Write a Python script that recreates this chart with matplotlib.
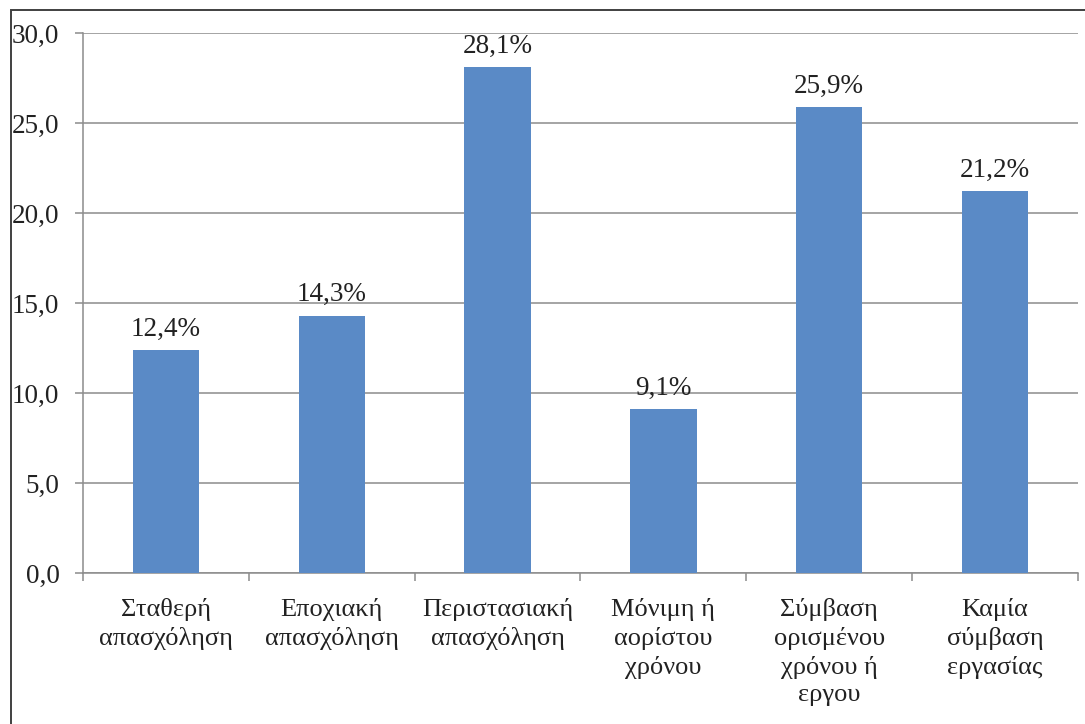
import matplotlib
matplotlib.use("Agg")
import matplotlib.pyplot as plt
from matplotlib.patches import Rectangle
import numpy as np

# data
categories = [
    "Σταθερή\nαπασχόληση",
    "Εποχιακή\nαπασχόληση",
    "Περιστασιακή\nαπασχόληση",
    "Μόνιμη ή\nαορίστου\nχρόνου",
    "Σύμβαση\nορισμένου\nχρόνου ή\nεργου",
    "Καμία\nσύμβαση\nεργασίας",
]
values = [12.4, 14.3, 28.1, 9.1, 25.9, 21.2]
yticks = [0, 5, 10, 15, 20, 25, 30]

plt.rcParams['font.family'] = ['Liberation Serif', 'DejaVu Serif']
bar_color = "#5A8AC6"
axis_gray = "#8C8C8C"
text_col = "#222222"

fig = plt.figure(figsize=(10.85, 7.24), dpi=100)
ax = fig.add_axes([83 / 1085, 1 - 573 / 724, (1078 - 83) / 1085, (573 - 33) / 724])

x = np.arange(len(categories))
ax.bar(x, values, width=0.4, color=bar_color, zorder=3)

for xi, v in zip(x, values):
    ax.annotate(f"{v:.1f}%".replace(".", ","), (xi, v), xytext=(0, 6),
                textcoords="offset points", ha="center", va="bottom",
                fontsize=19.5, color=text_col)

ax.set_xlim(-0.5, len(categories) - 0.5)
ax.set_ylim(0, 30)
ax.set_yticks(yticks)
ax.set_yticklabels([f"{t:.1f}".replace(".", ",") for t in yticks],
                   fontsize=19.5, color=text_col)
ax.yaxis.grid(True, color=axis_gray, linewidth=1.1, zorder=0)

# category boundaries as ticks, labels centered between them
ax.set_xticks(np.arange(len(categories) + 1) - 0.5)
ax.set_xticklabels([])
ax.set_xticks(x, minor=True)
ax.set_xticklabels(categories, minor=True, fontsize=19, color=text_col,
                   linespacing=1.32)
ax.tick_params(axis="x", which="minor", length=0, pad=18)
ax.tick_params(axis="x", which="major", length=6, color=axis_gray, width=1.1)
ax.tick_params(axis="y", length=6, color=axis_gray, width=1.1, pad=11)

for side in ["top", "right"]:
    ax.spines[side].set_visible(False)
for side in ["left", "bottom"]:
    ax.spines[side].set_color(axis_gray)
    ax.spines[side].set_linewidth(1.1)

# outer frame of the original chart object
fig.patches.append(Rectangle((10.5 / 1085, -0.1), 1.2, 1 - 10 / 724 + 0.1,
                             transform=fig.transFigure, fill=False,
                             edgecolor="#404040", linewidth=1.4))

fig.savefig("out.png", dpi=100)
